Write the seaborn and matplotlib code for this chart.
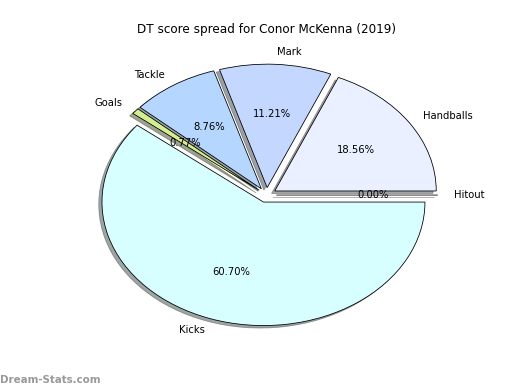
import matplotlib
matplotlib.use("Agg")
import matplotlib.pyplot as plt
import seaborn as sns

sns.set_style("white")
plt.rcParams['font.family'] = ['DejaVu Sans']
plt.rcParams['text.color'] = 'black'
plt.rcParams['axes.labelcolor'] = 'black'

labels = ['Hitout', 'Handballs', 'Mark', 'Tackle', 'Goals', 'Kicks']
values = [0, 144, 87, 68, 6, 471]
colors = ['#f0f0f0', '#eaf0ff', '#c4d8ff', '#b4d6ff', '#d2ee8e', '#d8ffff']
explode = [0.06] * len(values)

fig = plt.figure(figsize=(520 / 72, 390 / 72), dpi=72)
ax = fig.add_axes([0.1246, 0.104, 0.7764, 0.7917])
ax.pie(values, labels=labels, colors=colors, explode=explode, autopct='%1.2f%%',
       shadow=True, startangle=0, counterclock=True,
       wedgeprops=dict(edgecolor='black', linewidth=0.8),
       textprops=dict(fontsize=10, color='black'))
ax.set_aspect('auto')
ax.set_xlim(-1.25, 1.25)
ax.set_ylim(-1.25, 1.25)
ax.set_title('DT score spread for Conor McKenna (2019)', fontsize=12, pad=8, color='black')
fig.text(0.0, 0.018, 'Dream-Stats.com', fontsize=10.2, color='#999999', fontweight='bold')
fig.savefig('out.png', dpi=72)
